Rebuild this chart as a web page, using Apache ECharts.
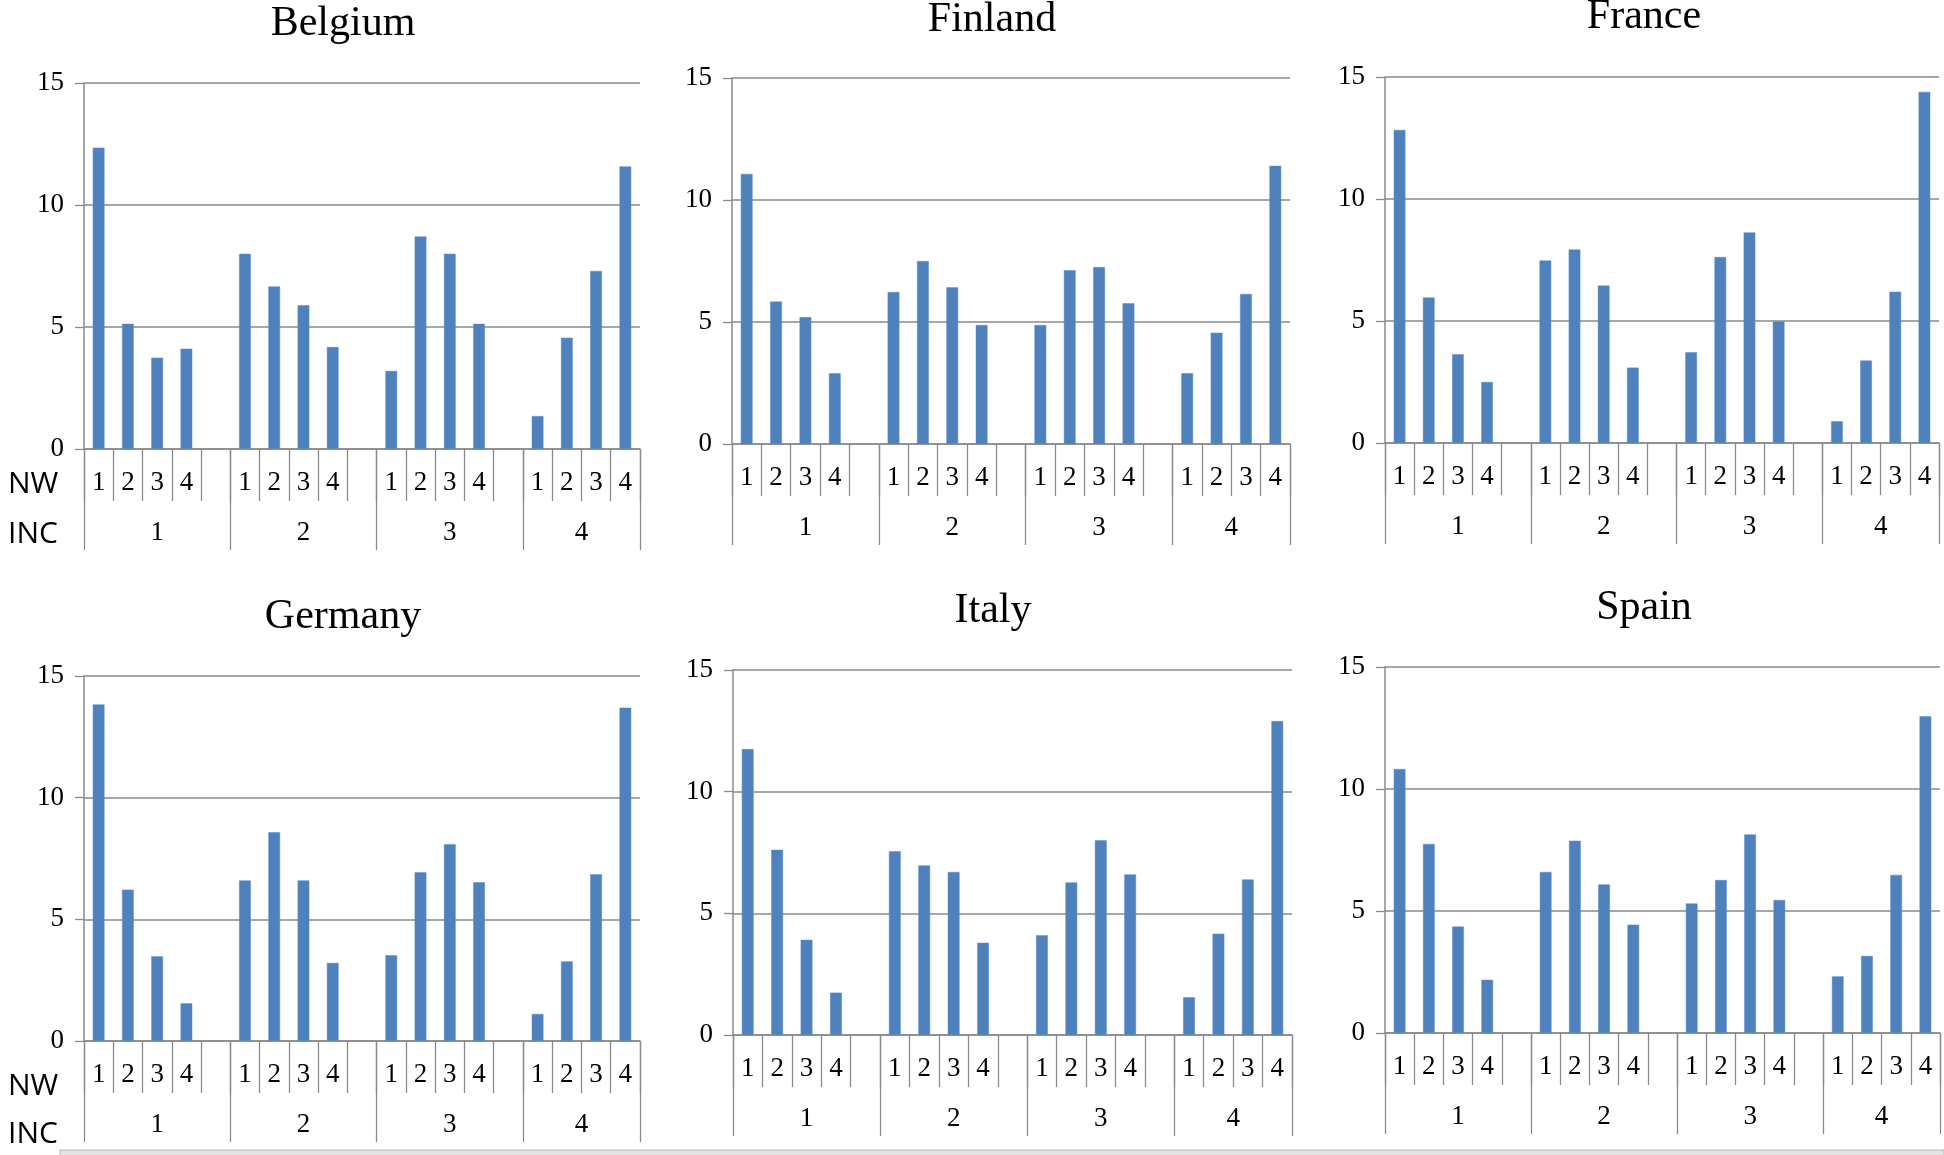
<!DOCTYPE html>
<html><head><meta charset="utf-8">
<script src="https://cdn.jsdelivr.net/npm/echarts@6/dist/echarts.min.js"></script>
<style>html,body{margin:0;padding:0;background:#fff}#c{width:1944px;height:1155px}</style>
</head><body><div id="c"></div>
<script>
// ---------- DATA ----------
const countries = ['Belgium', 'Finland', 'France', 'Germany', 'Italy', 'Spain'];
const incLevels = ['1', '2', '3', '4'];   // outer category level (INC)
const nwLevels  = ['1', '2', '3', '4'];   // inner category level (NW)
const yTickValues = [0, 5, 10, 15];

// values ordered INC1:NW1..4, INC2:NW1..4, INC3:NW1..4, INC4:NW1..4
const belgium = [12.35, 5.13, 3.74, 4.11,  8.0, 6.66, 5.89, 4.18,  3.2, 8.71, 8.0, 5.13,  1.35, 4.56, 7.3, 11.58];
const finland = [11.07, 5.84, 5.2, 2.9,    6.23, 7.5, 6.42, 4.88,  4.88, 7.12, 7.25, 5.77, 2.9, 4.56, 6.15, 11.4];
const france  = [12.83, 5.96, 3.64, 2.5,   7.48, 7.93, 6.45, 3.09, 3.72, 7.62, 8.63, 4.98, 0.89, 3.38, 6.2, 14.39];
const germany = [13.83, 6.22, 3.48, 1.55,  6.6, 8.58, 6.6, 3.21,   3.52, 6.93, 8.09, 6.52, 1.11, 3.27, 6.85, 13.7];
const italy   = [11.75, 7.61, 3.91, 1.74,  7.55, 6.97, 6.7, 3.79,  4.1, 6.27, 8.0, 6.6,    1.55, 4.16, 6.39, 12.9];
const spain   = [10.82, 7.75, 4.36, 2.18,  6.6, 7.88, 6.09, 4.44,  5.31, 6.27, 8.14, 5.45, 2.32, 3.16, 6.48, 12.98];
const countryValues = [belgium, finland, france, germany, italy, spain];

// ---------- LAYOUT ----------
const panels = [
  {left: 84,   top: 83,  width: 556, height: 366, tx: 343,  ty: 24},
  {left: 732,  top: 78,  width: 558, height: 366, tx: 992,  ty: 20},
  {left: 1385, top: 77,  width: 554, height: 366, tx: 1644, ty: 17},
  {left: 84,   top: 676, width: 556, height: 365, tx: 343,  ty: 617},
  {left: 733,  top: 670, width: 559, height: 365, tx: 993,  ty: 611},
  {left: 1385, top: 667, width: 555, height: 366, tx: 1644, ty: 608}
];
const rowLabels = [
  {text: 'NW', x: 8, y: 484}, {text: 'INC', x: 8, y: 534},
  {text: 'NW', x: 8, y: 1086}, {text: 'INC', x: 8, y: 1134}
];

// build category slots: NW bars per INC group, with a blank slot between groups
const slotNames = [];
const groupStarts = [];
incLevels.forEach((inc, g) => {
  groupStarts.push(slotNames.length);
  nwLevels.forEach(nw => slotNames.push(inc + '|' + nw));
  if (g < incLevels.length - 1) slotNames.push(inc + '|');
});
const nSlots = slotNames.length;
const boundaries = groupStarts.concat([nSlots]);
const centers = groupStarts.map((s, i) => (s + boundaries[i + 1]) / 2);

function slotData(vals) {
  const out = [];
  let k = 0;
  slotNames.forEach(name => {
    if (name.endsWith('|')) out.push('-');
    else out.push(vals[k++]);
  });
  return out;
}

const gridColor = '#8a8a8a';
const serif = 'Liberation Serif';
const grids = [], xAxes = [], yAxes = [], series = [], graphics = [];

panels.forEach((p, i) => {
  grids.push({left: p.left, top: p.top, width: p.width, height: p.height, containLabel: false});
  xAxes.push({
    type: 'category', gridIndex: i, data: slotNames, position: 'bottom',
    boundaryGap: true,
    axisLine: {show: true, lineStyle: {color: gridColor, width: 1.5}},
    axisTick: {show: true, interval: 0, length: 52, lineStyle: {color: gridColor, width: 1.3}},
    axisLabel: {interval: 0, margin: 20, fontFamily: serif, fontSize: 27, color: '#000',
      formatter: v => v.split('|')[1]},
    splitLine: {show: false}
  });
  xAxes.push({
    type: 'value', gridIndex: i, position: 'bottom', min: 0, max: nSlots,
    axisLine: {show: false},
    axisTick: {show: true, customValues: boundaries, length: 101, lineStyle: {color: gridColor, width: 1.3}},
    axisLabel: {customValues: centers, margin: 70, fontFamily: serif, fontSize: 27, color: '#000',
      formatter: v => { const idx = centers.indexOf(v); return idx >= 0 ? incLevels[idx] : ''; }},
    splitLine: {show: false}
  });
  yAxes.push({
    type: 'value', gridIndex: i, min: 0, max: 15, interval: 5,
    axisLine: {show: true, lineStyle: {color: gridColor, width: 1.5}},
    axisTick: {show: true, length: 9, lineStyle: {color: gridColor, width: 1.3}},
    axisLabel: {margin: 20, fontFamily: serif, fontSize: 27, color: '#000'},
    splitLine: {show: true, lineStyle: {color: gridColor, width: 1.5}}
  });
  series.push({
    type: 'bar', name: countries[i], xAxisIndex: i * 2, yAxisIndex: i,
    data: slotData(countryValues[i]), barWidth: '40%',
    itemStyle: {color: '#4F81BD', borderColor: '#5a8ccc', borderWidth: 0.5},
    animation: false
  });
  graphics.push({
    type: 'text', x: p.tx, y: p.ty,
    style: {text: countries[i], fontFamily: serif, fontSize: 42, fill: '#000',
      align: 'center', verticalAlign: 'middle'}
  });
});

rowLabels.forEach(r => graphics.push({
  type: 'text', x: r.x, y: r.y,
  style: {text: r.text, fontFamily: 'Open Sans', fontSize: 30, fill: '#000',
    align: 'left', verticalAlign: 'middle'}
}));
// bottom window strip
graphics.push({type: 'rect', shape: {x: 60, y: 1150, width: 1884, height: 6},
  style: {fill: '#e4e4e4', stroke: '#b8b8b8', lineWidth: 1}});

const chart = echarts.init(document.getElementById('c'), null, {renderer: 'canvas'});
chart.setOption({
  backgroundColor: '#fff',
  animation: false,
  grid: grids, xAxis: xAxes, yAxis: yAxes, series: series, graphic: graphics
});
</script>
</body></html>
